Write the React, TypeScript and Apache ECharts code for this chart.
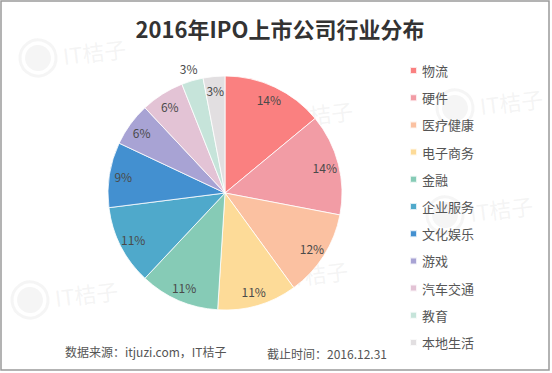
import React, { useEffect, useRef } from "react";
import * as echarts from "echarts";

const categories = ["物流", "硬件", "医疗健康", "电子商务", "金融", "企业服务", "文化娱乐", "游戏", "汽车交通", "教育", "本地生活"];
const values = [14, 14, 12, 11, 11, 11, 9, 6, 6, 3, 3];
const colors = ["#fa8080", "#f29ca5", "#fbc1a1", "#fddb98", "#86cbb6", "#4fa9cb", "#4390d0", "#a8a3d4", "#e3c3d5", "#c6e4da", "#e2dfe1"];
const titleText = "2016年IPO上市公司行业分布";
const sourceText = "数据来源：itjuzi.com，IT桔子";
const dateText = "截止时间：2016.12.31";
const outsideLabelCategory = "教育";

const FONT = "'Noto Sans CJK SC', 'Noto Sans', sans-serif";

function watermark(x: number, y: number, rot: number) {
  const c = "rgba(190,190,190,0.16)";
  return {
    type: "group",
    x,
    y,
    rotation: rot,
    silent: true,
    z: 100,
    children: [
      { type: "circle", shape: { cx: 0, cy: 0, r: 18 }, style: { fill: "none", stroke: c, lineWidth: 3 } },
      { type: "circle", shape: { cx: 0, cy: 0, r: 13 }, style: { fill: c } },
      { type: "text", x: 25, y: 0, style: { text: "IT桔子", font: `22px ${FONT}`, fill: c, verticalAlign: "middle" } },
    ],
  };
}

export default function App() {
  const ref = useRef<HTMLDivElement>(null);
  useEffect(() => {
    if (!ref.current) return;
    const chart = echarts.init(ref.current, null, { renderer: "svg" });
    const data = categories.map((name, i) => ({ name, value: values[i], itemStyle: { color: colors[i] } }));
    const transparent = { color: "rgba(0,0,0,0)", borderWidth: 0 };
    chart.setOption({
      animation: false,
      backgroundColor: "#ffffff",
      title: {
        text: titleText,
        left: 275,
        textAlign: "center",
        top: 12,
        textStyle: { fontFamily: FONT, fontSize: 22, fontWeight: "bold", color: "#333333" },
      },
      legend: {
        data: categories,
        orient: "vertical",
        left: 404,
        top: 59,
        icon: "rect",
        itemWidth: 7,
        itemHeight: 7,
        itemGap: 14.2,
        textStyle: { fontFamily: FONT, fontSize: 13, lineHeight: 13, color: "#555555" },
        selectedMode: false,
      },
      series: [
        {
          type: "pie",
          center: [225, 193],
          radius: [0, 117],
          startAngle: 90,
          clockwise: true,
          label: { show: false },
          labelLine: { show: false },
          itemStyle: { borderColor: "rgba(255,255,255,0.8)", borderWidth: 1 },
          data,
          silent: true,
        },
        {
          type: "pie",
          center: [225, 193],
          radius: [0, 200],
          startAngle: 90,
          silent: true,
          legendHoverLink: false,
          itemStyle: transparent,
          label: { show: true, position: "inside", fontFamily: FONT, fontSize: 12, color: "#4a4a4a", formatter: "{c}%" },
          labelLine: { show: false },
          data: categories.map((name, i) => ({
            name,
            value: values[i],
            label: { show: name !== outsideLabelCategory },
          })),
        },
        {
          type: "pie",
          center: [225, 193],
          radius: [0, 254],
          startAngle: 90,
          silent: true,
          legendHoverLink: false,
          itemStyle: transparent,
          label: { show: true, position: "inside", fontFamily: FONT, fontSize: 12, color: "#4a4a4a", formatter: "{c}%" },
          labelLine: { show: false },
          data: categories.map((name, i) => ({
            name,
            value: values[i],
            label: { show: name === outsideLabelCategory },
          })),
        },
      ],
      graphic: [
        watermark(38, 58, 0.12),
        watermark(265, 120, 0.12),
        watermark(455, 108, 0.12),
        watermark(205, 205, 0.12),
        watermark(445, 215, 0.12),
        watermark(30, 300, 0.12),
        watermark(260, 280, 0.12),
        {
          type: "text",
          left: 65,
          top: 345,
          style: { text: sourceText, font: `12px ${FONT}`, fill: "#555555" },
        },
        {
          type: "text",
          left: 267,
          top: 347,
          style: { text: dateText, font: `12px ${FONT}`, fill: "#555555" },
        },
        {
          type: "rect",
          shape: { x: 1, y: 1, width: 548, height: 369 },
          style: { fill: "none", stroke: "#9a9a9a", lineWidth: 1.5 },
          silent: true,
          z: 200,
        },
      ],
    });
    return () => chart.dispose();
  }, []);
  return <div ref={ref} style={{ position: "fixed", left: 0, top: 0, width: 552, height: 373 }} />;
}
